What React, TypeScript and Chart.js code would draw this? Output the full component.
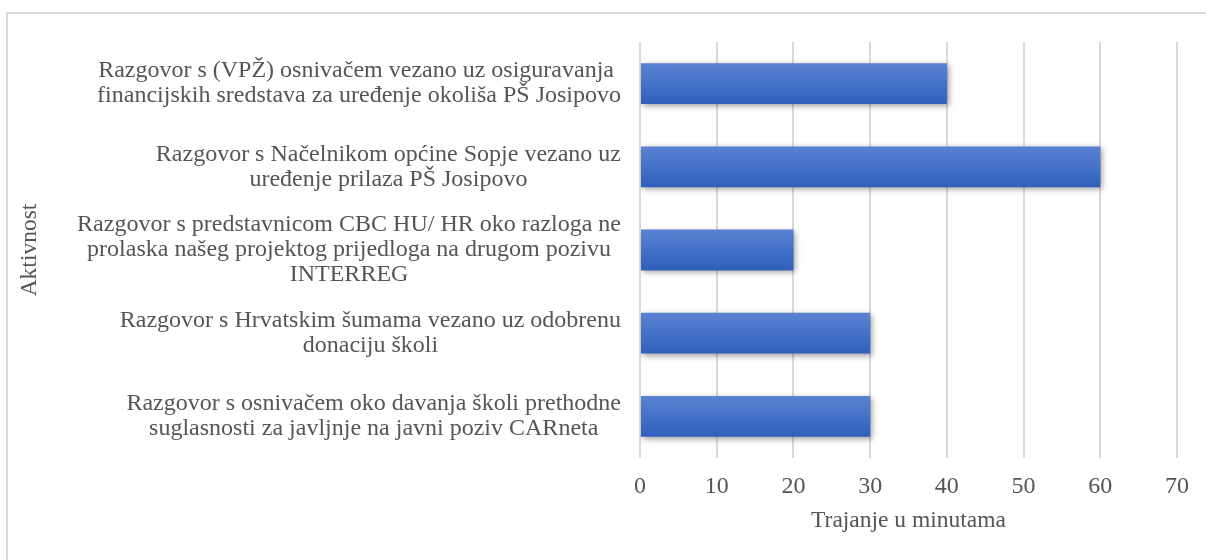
import React, { useEffect, useRef } from 'react';
import { Chart, registerables } from 'chart.js';

Chart.register(...registerables);

// ---- data ----
const categories: string[][] = [
  ['Razgovor s (VPŽ) osnivačem vezano uz osiguravanja ', 'financijskih sredstava za uređenje okoliša PŠ Josipovo'],
  ['Razgovor s Načelnikom općine Sopje vezano uz', 'uređenje prilaza PŠ Josipovo'],
  ['Razgovor s predstavnicom CBC HU/ HR oko razloga ne', 'prolaska našeg projektog prijedloga na drugom pozivu', 'INTERREG'],
  ['Razgovor s Hrvatskim šumama vezano uz odobrenu', 'donaciju školi'],
  ['Razgovor s osnivačem oko davanja školi prethodne', 'suglasnosti za javljnje na javni poziv CARneta'],
];
const durations: number[] = [40, 60, 20, 30, 30];
const xMin = 0;
const xMax = 70;
const xStep = 10;
const xTitle = 'Trajanje u minutama';
const yTitle = 'Aktivnost';

// ---- style ----
const FONT = "'Liberation Serif', 'Times New Roman', serif";
const TEXT = '#555555';
const GRID = '#d9d9d9';
const BAR_PCT = 0.49;

const categoryLabelPlugin = {
  id: 'categoryLabels',
  afterDraw(chart: any) {
    const ctx = chart.ctx;
    const yScale = chart.scales.y;
    ctx.save();
    ctx.font = `24px ${FONT}`;
    ctx.fillStyle = TEXT;
    ctx.textAlign = 'center';
    ctx.textBaseline = 'middle';
    const right = chart.chartArea.left - 19;
    const lineH = 25;
    (chart.data.labels as any[]).forEach((lab, i) => {
      const lines: string[] = Array.isArray(lab) ? lab : [lab];
      const w = Math.max(...lines.map((l) => ctx.measureText(l).width));
      const cx = Math.max(right - w / 2, 50 + w / 2);
      const cy = yScale.getPixelForTick(i);
      lines.forEach((l, k) => {
        ctx.fillText(l, cx, cy + (k - (lines.length - 1) / 2) * lineH);
      });
    });
    ctx.restore();
  },
};

const shadowPlugin = {
  id: 'barShadow',
  beforeDatasetsDraw(chart: any) {
    const ctx = chart.ctx;
    ctx.save();
    ctx.shadowColor = 'rgba(0,0,0,0.38)';
    ctx.shadowBlur = 6;
    ctx.shadowOffsetX = 2;
    ctx.shadowOffsetY = 2;
  },
  afterDatasetsDraw(chart: any) {
    chart.ctx.restore();
  },
};

function barGradient(context: any) {
  const chart = context.chart;
  const yScale = chart.scales.y;
  if (!chart.chartArea || !yScale || context.dataIndex === undefined) return '#4472c4';
  const c = yScale.getPixelForValue(context.dataIndex);
  const t = (yScale.height / categories.length) * BAR_PCT;
  const g = chart.ctx.createLinearGradient(0, c - t / 2, 0, c + t / 2);
  g.addColorStop(0, '#5b82d2');
  g.addColorStop(0.5, '#4472c8');
  g.addColorStop(1, '#2f5fbb');
  return g;
}

export default function App() {
  const ref = useRef<HTMLCanvasElement | null>(null);
  useEffect(() => {
    if (!ref.current) return;
    const chart = new Chart(ref.current, {
      type: 'bar',
      data: {
        labels: categories as any,
        datasets: [
          {
            data: durations,
            backgroundColor: barGradient as any,
            borderWidth: 0,
            barPercentage: BAR_PCT,
            categoryPercentage: 1,
          },
        ],
      },
      options: {
        indexAxis: 'y',
        animation: false,
        responsive: false,
        events: [],
        layout: { padding: { top: 42, right: 29, left: 0, bottom: 0 } },
        plugins: { legend: { display: false }, tooltip: { enabled: false } },
        scales: {
          x: {
            type: 'linear',
            min: xMin,
            max: xMax,
            afterFit: (s: any) => {
              s.height = 102;
            },
            ticks: {
              stepSize: xStep,
              color: TEXT,
              font: { family: FONT, size: 24 },
              padding: 14,
            },
            grid: { color: GRID, lineWidth: 2, drawTicks: false },
            border: { display: false },
            title: {
              display: true,
              text: xTitle,
              color: TEXT,
              font: { family: FONT, size: 23.5 },
              padding: { top: 0, bottom: 25 },
            },
          },
          y: {
            type: 'category',
            afterFit: (s: any) => {
              s.width = 640;
            },
            ticks: { display: false },
            grid: { display: false },
            border: { display: false },
            title: {
              display: true,
              text: yTitle,
              color: TEXT,
              font: { family: FONT, size: 23.5 },
              padding: { top: 16, bottom: 0 },
            },
          },
        },
      },
      plugins: [shadowPlugin, categoryLabelPlugin],
    });
    return () => chart.destroy();
  }, []);

  return (
    <div style={{ position: 'absolute', left: 0, top: 0, width: 1206, height: 560, overflow: 'hidden', background: '#fff' }}>
      <div
        style={{
          position: 'absolute',
          left: 6,
          top: 12,
          width: 1240,
          height: 600,
          border: `2px solid ${GRID}`,
          boxSizing: 'border-box',
        }}
      />
      <canvas ref={ref} width={1206} height={560} style={{ position: 'absolute', left: 0, top: 0 }} />
    </div>
  );
}
